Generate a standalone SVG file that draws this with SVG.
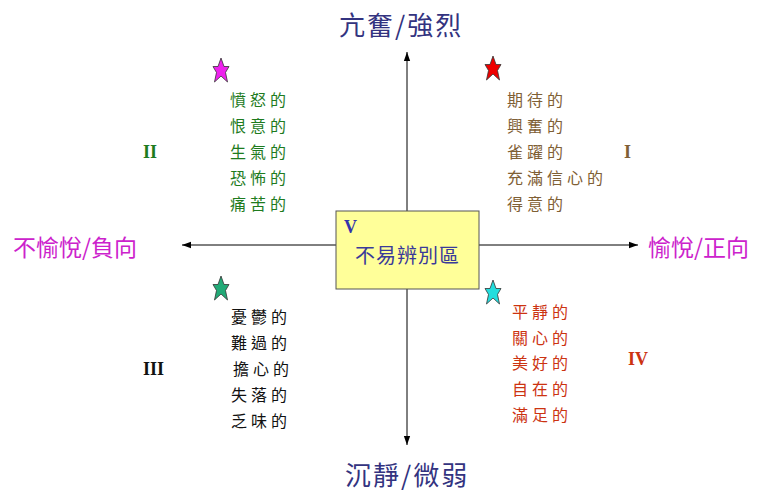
<svg xmlns="http://www.w3.org/2000/svg" width="777" height="493" viewBox="0 0 777 493">
<style>
.ax{stroke:#000;stroke-width:1;fill:none}
.lbl{font-family:"Noto Sans CJK TC","Noto Sans CJK SC",sans-serif;font-size:23px}
.tb{font-family:"Noto Sans CJK TC","Noto Sans CJK SC",sans-serif;font-size:26px;letter-spacing:2px}
.col{font-family:"Noto Sans CJK TC","Noto Sans CJK SC",sans-serif;font-size:16px;letter-spacing:4px}
.rn{font-family:"Liberation Serif",serif;font-size:18px;font-weight:bold}
.star{stroke:#333;stroke-width:0.8}
</style>
<defs>
<marker id="ah" viewBox="0 0 10 10" refX="10" refY="5" markerWidth="9" markerHeight="9" markerUnits="userSpaceOnUse" orient="auto"><path d="M0,1.5 L10,5 L0,8.5 Z" fill="#000"/></marker>
<path id="st" d="M0,-12 L3,-3.5 L8,-3.5 L4.5,2.5 L6.5,12 L0,6 L-6.5,12 L-4.5,2.5 L-8,-3.5 L-3,-3.5 Z"/>
</defs>
<rect width="777" height="493" fill="#fff"/>
<g id="connectors">
<line class="ax" x1="407" y1="245" x2="407" y2="52" marker-end="url(#ah)"/>
<line class="ax" x1="407" y1="245" x2="407" y2="445" marker-end="url(#ah)"/>
<line class="ax" x1="407" y1="245" x2="182" y2="245" marker-end="url(#ah)"/>
<line class="ax" x1="407" y1="245" x2="638" y2="245" marker-end="url(#ah)"/>
</g>
<g id="top"><text class="tb" x="339" y="35" fill="#333380">亢奮/強烈</text></g>
<g id="bottom"><text class="tb" x="345" y="485" fill="#333380">沉靜/微弱</text></g>
<g id="left"><text class="lbl" x="13" y="256" fill="#CC22CC">不愉悅/負向</text></g>
<g id="right"><text class="lbl" x="648" y="256" fill="#CC22CC">愉悅/正向</text></g>
<g id="center">
<rect x="336" y="211" width="143" height="78" fill="#FFFF99" stroke="#555" stroke-width="1"/>
<text class="rn" x="344" y="233" fill="#3333AA">V</text>
<text x="355" y="263" font-family="Noto Sans CJK TC,sans-serif" font-size="20" letter-spacing="1" fill="#3A3A9A">不易辨別區</text>
</g>
<g id="q1">
<use href="#st" x="493" y="68" fill="#EE0000" class="star"/>
<text class="col" fill="#7F6035"><tspan x="507" y="106">期待的</tspan><tspan x="507" y="132">興奮的</tspan><tspan x="507" y="158">雀躍的</tspan><tspan x="507" y="184">充滿信心的</tspan><tspan x="507" y="210">得意的</tspan></text>
<text class="rn" x="624" y="158" fill="#7F6035" font-weight="normal">I</text>
</g>
<g id="q2">
<use href="#st" x="221" y="70" fill="#EE22EE" class="star"/>
<text class="col" fill="#1E7B1E"><tspan x="230" y="106">憤怒的</tspan><tspan x="230" y="132">恨意的</tspan><tspan x="230" y="158">生氣的</tspan><tspan x="230" y="184">恐怖的</tspan><tspan x="230" y="210">痛苦的</tspan></text>
<text class="rn" x="143" y="158" fill="#1E7B1E">II</text>
</g>
<g id="q3">
<use href="#st" x="221" y="288" fill="#22AA77" class="star"/>
<text class="col" fill="#111"><tspan x="231" y="323">憂鬱的</tspan><tspan x="231" y="349">難過的</tspan><tspan x="233" y="375">擔心的</tspan><tspan x="231" y="401">失落的</tspan><tspan x="231" y="427">乏味的</tspan></text>
<text class="rn" x="143" y="375" fill="#111">III</text>
</g>
<g id="q4">
<use href="#st" x="493" y="292" fill="#22DDDD" class="star"/>
<text class="col" fill="#CC3311"><tspan x="512" y="318">平靜的</tspan><tspan x="512" y="344">關心的</tspan><tspan x="512" y="369">美好的</tspan><tspan x="512" y="395">自在的</tspan><tspan x="512" y="421">滿足的</tspan></text>
<text class="rn" x="628" y="365" fill="#CC3311">IV</text>
</g>
</svg>
